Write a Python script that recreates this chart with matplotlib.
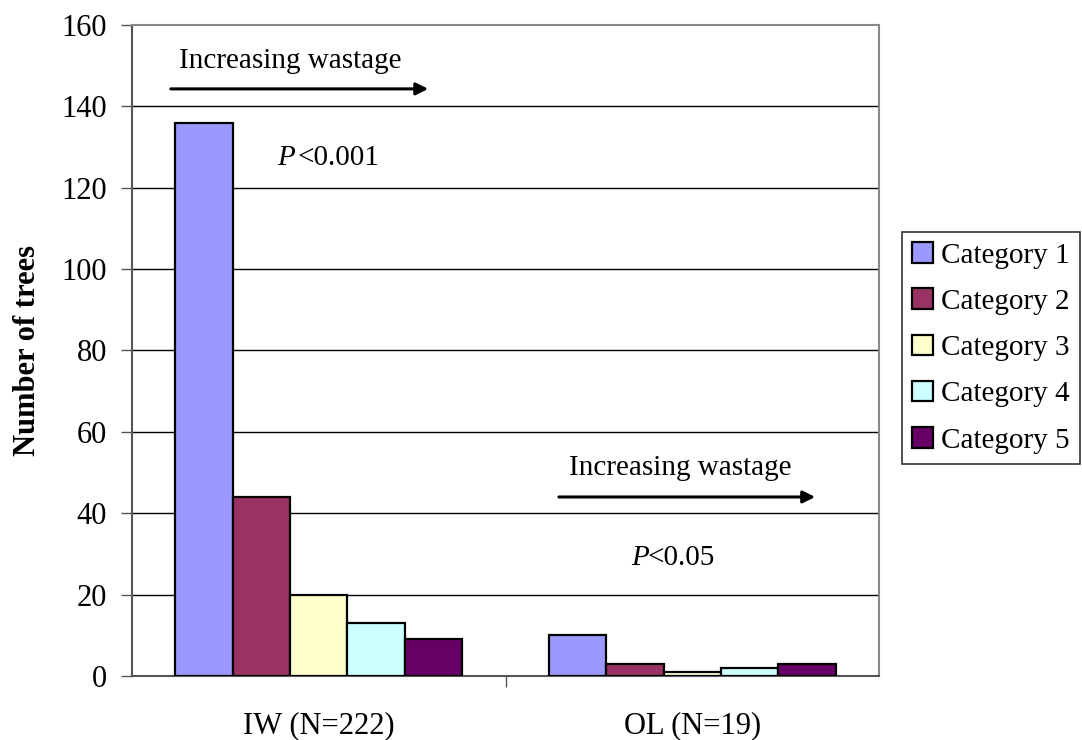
import matplotlib
matplotlib.use("Agg")
import matplotlib.pyplot as plt
import numpy as np

groups = ["IW (N=222)", "OL (N=19)"]
series_names = ["Category 1", "Category 2", "Category 3", "Category 4", "Category 5"]
cat1 = [136, 10]
cat2 = [44, 3]
cat3 = [20, 1]
cat4 = [13, 2]
cat5 = [9, 3]
colors = ["#9999FF", "#993366", "#FFFFCC", "#CCFFFF", "#660066"]
yticks = [0, 20, 40, 60, 80, 100, 120, 140, 160]

plt.rcParams['font.family'] = ['Liberation Serif', 'DejaVu Serif']

fig = plt.figure(figsize=(10.82, 7.40), dpi=100)
ax = fig.add_axes([132/1082, 1-676/740, (879-132)/1082, (676-25)/740])

values = [cat1, cat2, cat3, cat4, cat5]
x = np.arange(len(groups))
bw = 1/6.5
for i, (vals, c, name) in enumerate(zip(values, colors, series_names)):
    ax.bar(x + (i - 2) * bw, vals, width=bw, color=c, edgecolor='black',
           linewidth=1.6, label=name, zorder=3)

ax.set_xlim(-0.5, 1.5)
ax.set_ylim(0, 160)
ax.set_yticks(yticks)
for yv in yticks[1:-1]:
    ax.axhline(yv, color='black', lw=1, zorder=1)
ax.set_xticks([0.5])
ax.set_xticklabels([])
ax.tick_params(axis='x', length=8, width=1, color='#555555', direction='out')
ax.tick_params(axis='y', length=8, width=1, color='#555555', direction='out', labelsize=22, pad=10)
for i, g in enumerate(groups):
    ax.text(i, -14, g, ha='center', va='baseline', fontsize=22, clip_on=False)

for s in ['top', 'right']:
    ax.spines[s].set_color('#888888')
    ax.spines[s].set_linewidth(1.5)
ax.spines['left'].set_color('#555555')
ax.spines['left'].set_linewidth(1.5)
ax.spines['bottom'].set_color('#555555')
ax.spines['bottom'].set_linewidth(1.5)

ax.set_ylabel("Number of trees", fontsize=22, fontweight='bold', labelpad=14)

# annotations
ax.text(-0.374, 149.5, "Increasing wastage", fontsize=21, va='baseline', ha='left')
ax.annotate("", xy=(0.293, 144.3), xytext=(-0.396, 144.3),
            arrowprops=dict(arrowstyle='-|>', lw=2.2, color='black', mutation_scale=18,
                            shrinkA=0, shrinkB=0))
ax.text(-0.112, 125.6, "P", fontsize=21, fontstyle='italic', va='baseline', ha='left')
ax.text(-0.058, 125.6, "<0.001", fontsize=21, va='baseline', ha='left')

ax.text(0.670, 49.4, "Increasing wastage", fontsize=21, va='baseline', ha='left')
ax.annotate("", xy=(1.329, 44.0), xytext=(0.643, 44.0),
            arrowprops=dict(arrowstyle='-|>', lw=2.2, color='black', mutation_scale=18,
                            shrinkA=0, shrinkB=0))
ax.text(0.836, 27.3, "P", fontsize=21, fontstyle='italic', va='baseline', ha='left')
ax.text(0.8815, 27.3, "<0.05", fontsize=21, va='baseline', ha='left')

leg = fig.legend(loc='upper left', bbox_to_anchor=(902/1082, 1-232/740), fontsize=21,
                 frameon=True, fancybox=False, edgecolor='black', handlelength=0.7,
                 handleheight=0.7, handletextpad=0.3, labelspacing=0.68, borderpad=0.35,
                 borderaxespad=0)
leg.get_frame().set_linewidth(1.2)

fig.savefig("out.png", dpi=100)
